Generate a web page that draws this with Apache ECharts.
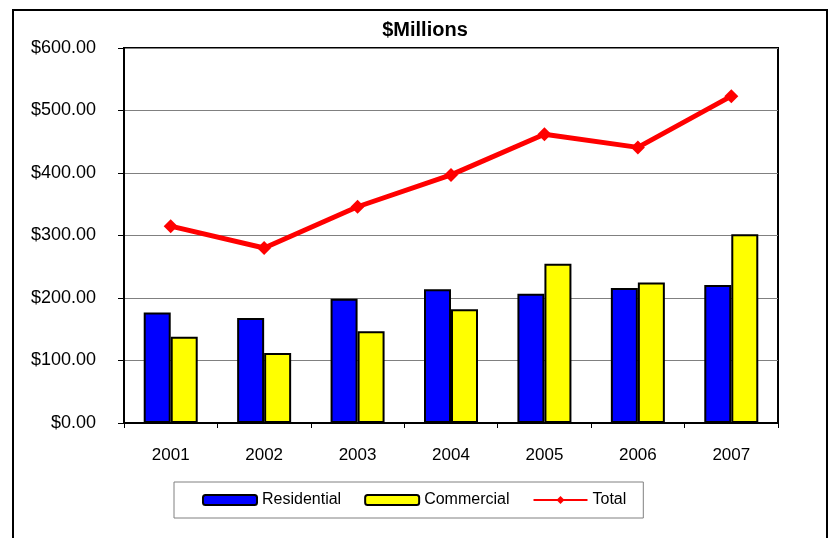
<!DOCTYPE html>
<html>
<head>
<meta charset="utf-8">
<script src="https://cdn.jsdelivr.net/npm/echarts@6/dist/echarts.min.js"></script>
<style>html,body{margin:0;padding:0;background:#fff;}#c{width:830px;height:538px;}</style>
</head>
<body>
<div id="c"></div>
<script>
const years = ['2001','2002','2003','2004','2005','2006','2007'];
const residential = [177, 168, 199, 214, 207, 216, 221];
const commercial = [138, 112, 147, 182, 255, 225, 302];
const total = [315, 280, 346, 397, 462, 441, 523];
const yTicks = {min: 0, max: 600, interval: 100};

const FONT = '"Liberation Sans", Arial, sans-serif';
const chart = echarts.init(document.getElementById('c'));
chart.setOption({
  animation: false,
  backgroundColor: '#fff',
  graphic: [{
    type: 'rect', z: 100, silent: true,
    shape: {x: 13, y: 10, width: 814, height: 540},
    style: {fill: 'none', stroke: '#000', lineWidth: 2}
  }],
  title: {
    text: '$Millions', left: 420, top: 15, textAlign: 'center',
    textStyle: {fontFamily: FONT, fontSize: 20, fontWeight: 'bold', color: '#000'}
  },
  legend: {
    left: 174, top: 482,
    padding: [10, 17, 10, 28],
    itemWidth: 54, itemHeight: 10, itemGap: 23,
    borderColor: '#808080', borderWidth: 1,
    textStyle: {fontFamily: FONT, fontSize: 16, color: '#000'},
    data: ['Residential', 'Commercial', 'Total']
  },
  grid: {
    left: 124, right: 52, top: 48, bottom: 115,
    show: true, borderColor: '#000', borderWidth: 2, backgroundColor: 'transparent'
  },
  xAxis: {
    type: 'category', data: years,
    axisLine: {lineStyle: {color: '#000', width: 2}},
    axisTick: {show: true, length: 5, lineStyle: {color: '#000', width: 1}},
    axisLabel: {fontFamily: FONT, fontSize: 17, color: '#000', margin: 24}
  },
  yAxis: {
    type: 'value', min: yTicks.min, max: yTicks.max, interval: yTicks.interval,
    axisLine: {show: true, lineStyle: {color: '#000', width: 2}},
    axisTick: {show: true, length: 6, lineStyle: {color: '#000', width: 1}},
    splitLine: {lineStyle: {color: '#808080', width: 1}},
    axisLabel: {fontFamily: FONT, fontSize: 18, color: '#000', margin: 28,
      formatter: v => '$' + v.toFixed(2)}
  },
  series: [
    {name: 'Residential', type: 'bar', data: residential, barWidth: 27, barGap: '0%',
      itemStyle: {color: '#0000FF', borderColor: '#000', borderWidth: 2}},
    {name: 'Commercial', type: 'bar', data: commercial, barWidth: 27, barGap: '0%',
      itemStyle: {color: '#FFFF00', borderColor: '#000', borderWidth: 2}},
    {name: 'Total', type: 'line', data: total, z: 5,
      symbol: 'diamond', symbolSize: 14,
      lineStyle: {color: '#FF0000', width: 5},
      itemStyle: {color: '#FF0000'}}
  ]
});
</script>
</body>
</html>
